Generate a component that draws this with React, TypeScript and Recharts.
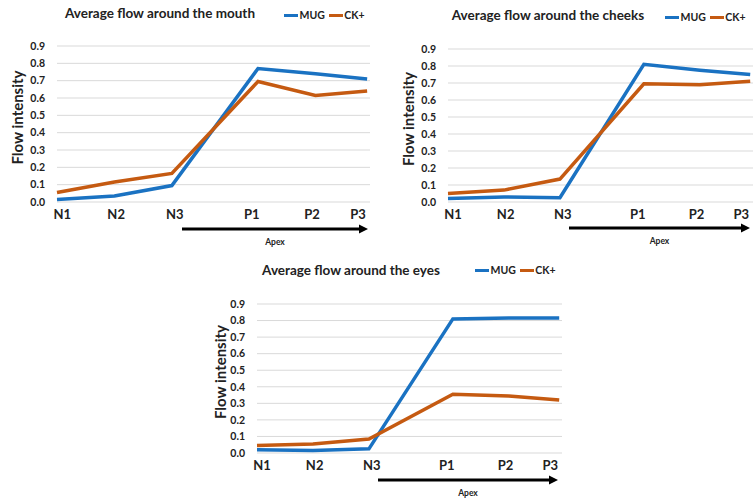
import { LineChart, Line, XAxis, YAxis, CartesianGrid, Legend } from 'recharts'

const frames = ['N1', 'N2', 'N3', 'P1', 'P2', 'P3']
// frame positions along the time axis (the apex frames are spaced out a bit)
const framePos = [0, 1, 2, 3.5, 4.5, 5.4]
const labelPos = [0.09, 1.03, 2.05, 3.39, 4.44, 5.24]
const yTicks = [0, 0.1, 0.2, 0.3, 0.4, 0.5, 0.6, 0.7, 0.8, 0.9]

const mouthMug = [0.015, 0.035, 0.095, 0.77, 0.74, 0.71]
const mouthCk = [0.055, 0.115, 0.165, 0.695, 0.615, 0.64]
const cheeksMug = [0.02, 0.03, 0.025, 0.81, 0.775, 0.75]
const cheeksCk = [0.05, 0.07, 0.135, 0.695, 0.69, 0.71]
const eyesMug = [0.02, 0.015, 0.025, 0.81, 0.815, 0.815]
const eyesCk = [0.045, 0.055, 0.085, 0.355, 0.345, 0.32]

const BLUE = '#1a72c2'
const ORANGE = '#c55a11'
const FONT = 'Lato, "Liberation Sans", sans-serif'

type Box = { left: number; top: number; width: number; height: number }

function buildRows(mug: number[], ck: number[]) {
  return frames.map((f, i) => ({ name: f, x: framePos[i], mug: mug[i], ck: ck[i] }))
}

function LegendBox() {
  const item = (color: string, text: string) => (
    <span style={{ display: 'inline-flex', alignItems: 'center', marginRight: 4 }}>
      <span style={{ width: 14, height: 3.5, background: color, display: 'inline-block', marginRight: 1.5 }} />
      <span style={{ fontSize: 10.5, fontWeight: 700, color: '#222', lineHeight: '13px' }}>{text}</span>
    </span>
  )
  return (
    <div style={{ display: 'flex', fontFamily: FONT, whiteSpace: 'nowrap' }}>
      {item(BLUE, 'MUG')}
      {item(ORANGE, 'CK+')}
    </div>
  )
}

function FlowPanel({
  box,
  title,
  mug,
  ck,
  yWidth,
  margin,
  titleX,
  titleY,
  legendX,
  legendY,
  yLabelX,
  arrow,
}: {
  box: Box
  title: string
  mug: number[]
  ck: number[]
  yWidth: number
  margin: { top: number; right: number; bottom: number; left: number }
  titleX: number
  titleY: number
  legendX: number
  legendY: number
  yLabelX: number
  arrow: { x1: number; x2: number; y: number }
}) {
  const rows = buildRows(mug, ck)
  const plotTop = margin.top
  const plotBottom = box.height - margin.bottom - 20
  return (
    <div style={{ position: 'absolute', left: box.left, top: box.top, width: box.width, height: box.height }}>
      <LineChart width={box.width} height={box.height} data={rows} margin={margin}>
        <CartesianGrid vertical={false} stroke="#d9d9d9" strokeWidth={1} />
        <XAxis
          dataKey="x"
          type="number"
          domain={[0, 5.45]}
          ticks={labelPos}
          tickFormatter={(_v: number, i: number) => frames[i]}
          axisLine={false}
          tickLine={false}
          height={20}
          tickMargin={2}
          interval={0}
          tick={{ fontSize: 13, fontWeight: 700, fill: '#222', fontFamily: FONT }}
        />
        <YAxis
          type="number"
          domain={[0, 0.9]}
          ticks={yTicks}
          tickFormatter={(v: number) => v.toFixed(1)}
          axisLine={false}
          tickLine={false}
          width={yWidth}
          tickMargin={6}
          interval={0}
          tick={{ fontSize: 10.5, fontWeight: 700, fill: '#222', fontFamily: FONT }}
        />
        <Legend
          verticalAlign="top"
          align="left"
          content={() => <LegendBox />}
          wrapperStyle={{ position: 'absolute', left: legendX, top: legendY, width: 'auto' }}
        />
        <Line dataKey="mug" name="MUG" stroke={BLUE} strokeWidth={3.5} dot={false} isAnimationActive={false} />
        <Line dataKey="ck" name="CK+" stroke={ORANGE} strokeWidth={3.5} dot={false} isAnimationActive={false} />
      </LineChart>
      <svg
        width={box.width}
        height={box.height}
        style={{ position: 'absolute', left: 0, top: 0, pointerEvents: 'none', fontFamily: FONT }}
      >
        <text x={titleX} y={titleY} textAnchor="middle" fontSize={13.5} fontWeight={700} fill="#222">
          {title}
        </text>
        <text
          transform={`translate(${yLabelX}, ${(plotTop + plotBottom) / 2}) rotate(-90)`}
          textAnchor="middle"
          fontSize={15}
          fontWeight={700}
          fill="#222"
        >
          Flow intensity
        </text>
        <line x1={arrow.x1} y1={arrow.y} x2={arrow.x2 - 6} y2={arrow.y} stroke="#000" strokeWidth={3} />
        <polygon
          points={`${arrow.x2},${arrow.y} ${arrow.x2 - 9},${arrow.y - 4.5} ${arrow.x2 - 9},${arrow.y + 4.5}`}
          fill="#000"
        />
        <text x={(arrow.x1 + arrow.x2) / 2} y={arrow.y + 16} textAnchor="middle" fontSize={8.5} fontWeight={700} fill="#222">
          Apex
        </text>
      </svg>
    </div>
  )
}

export default function App() {
  return (
    <div style={{ position: 'absolute', left: 0, top: 0, width: 753, height: 499, background: '#fff', overflow: 'hidden' }}>
      <FlowPanel
        box={{ left: 0, top: 0, width: 376, height: 250 }}
        title="Average flow around the mouth"
        mug={mouthMug}
        ck={mouthCk}
        yWidth={57}
        margin={{ top: 33, right: 6, bottom: 28, left: 0 }}
        titleX={160}
        titleY={18}
        legendX={284}
        legendY={9}
        yLabelX={23}
        arrow={{ x1: 182, x2: 368, y: 229 }}
      />
      <FlowPanel
        box={{ left: 376, top: 0, width: 377, height: 250 }}
        title="Average flow around the cheeks"
        mug={cheeksMug}
        ck={cheeksCk}
        yWidth={72}
        margin={{ top: 36, right: 0, bottom: 28, left: 0 }}
        titleX={172}
        titleY={20}
        legendX={289}
        legendY={11}
        yLabelX={38}
        arrow={{ x1: 193, x2: 374, y: 228 }}
      />
      <FlowPanel
        box={{ left: 190, top: 250, width: 400, height: 249 }}
        title="Average flow around the eyes"
        mug={eyesMug}
        ck={eyesCk}
        yWidth={67}
        margin={{ top: 41, right: 28, bottom: 26, left: 0 }}
        titleX={161}
        titleY={25}
        legendX={285}
        legendY={14}
        yLabelX={36}
        arrow={{ x1: 188, x2: 368, y: 230 }}
      />
    </div>
  )
}
